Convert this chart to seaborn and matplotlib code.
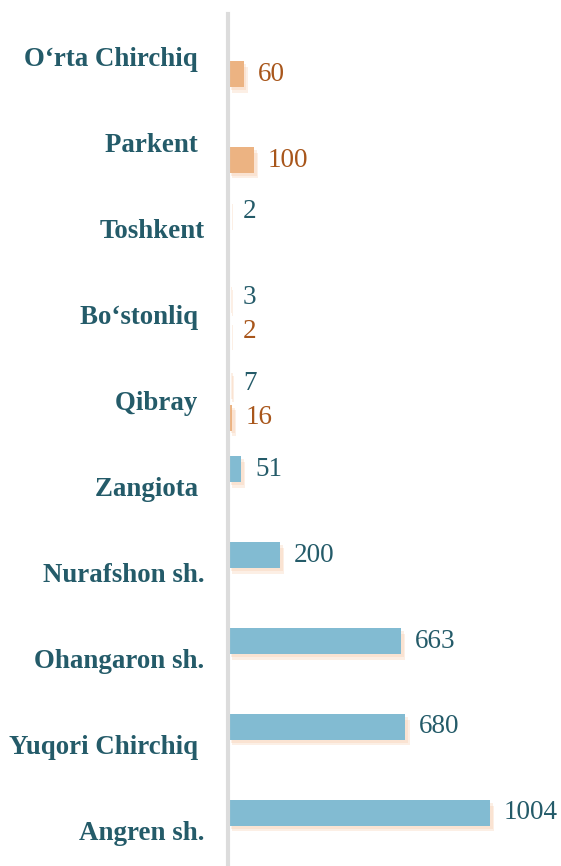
import numpy as np
import pandas as pd
import matplotlib
matplotlib.use("Agg")
import matplotlib.pyplot as plt
import matplotlib.patheffects as pe
import seaborn as sns

# districts, top to bottom
districts = ["O‘rta Chirchiq", "Parkent", "Toshkent", "Bo‘stonliq", "Qibray",
             "Zangiota", "Nurafshon sh.", "Ohangaron sh.", "Yuqori Chirchiq", "Angren sh."]
# tick labels as typed in the source (some carry a trailing space)
tick_labels = ["O‘rta Chirchiq ", "Parkent ", "Toshkent", "Bo‘stonliq ", "Qibray ",
               "Zangiota ", "Nurafshon sh.", "Ohangaron sh.", "Yuqori Chirchiq ", "Angren sh."]
blue_vals = [np.nan, np.nan, 2, 3, 7, 51, 200, 663, 680, 1004]
orange_vals = [60, 100, np.nan, 2, 16, np.nan, np.nan, np.nan, np.nan, np.nan]
series = ["blue", "orange"]

blue_c = "#82bbd2"
orange_c = "#ecb382"
teal = "#245b69"
brown = "#a8561b"

df = pd.concat([
    pd.DataFrame({"district": districts, "value": blue_vals, "series": series[0]}),
    pd.DataFrame({"district": districts, "value": orange_vals, "series": series[1]}),
], ignore_index=True)

sns.set_style("white")
plt.rcParams["font.family"] = ["Liberation Serif", "DejaVu Serif"]

fig = plt.figure(figsize=(5.61, 8.66), dpi=100)
ax = fig.add_axes([228 / 561, -7 / 866, 333 / 561, 859 / 866])

sns.barplot(data=df, y="district", x="value", hue="series", order=districts,
            hue_order=series, palette=[blue_c, orange_c], orient="h",
            saturation=1, gap=0.25, legend=False, ax=ax, linewidth=0)

# soft orange shadow under the bars
shadow = [pe.SimplePatchShadow(offset=(3, -4), shadow_rgbFace="#f6c09a", alpha=0.25),
          pe.SimplePatchShadow(offset=(2, -2), shadow_rgbFace="#f6c09a", alpha=0.25),
          pe.Normal()]
for patch in ax.patches:
    patch.set_path_effects(shadow)

for cont, col in zip(ax.containers, [teal, brown]):
    ax.bar_label(cont, fmt="{:.0f}", padding=10, color=col, fontsize=19.5)

ax.set_xlim(0, 1276)
ax.set_ylim(9.5, -0.5)
ax.set_xlabel("")
ax.set_ylabel("")
ax.set_xticks([])
ax.set_yticks(range(len(districts)))
ax.set_yticklabels(tick_labels, fontweight="bold", fontsize=19.4, color=teal)
ax.tick_params(axis="y", length=0, pad=17)

for s in ["top", "right", "bottom"]:
    ax.spines[s].set_visible(False)
ax.spines["left"].set_color("#dcdcdc")
ax.spines["left"].set_linewidth(3)

fig.savefig("out.png", dpi=100)
